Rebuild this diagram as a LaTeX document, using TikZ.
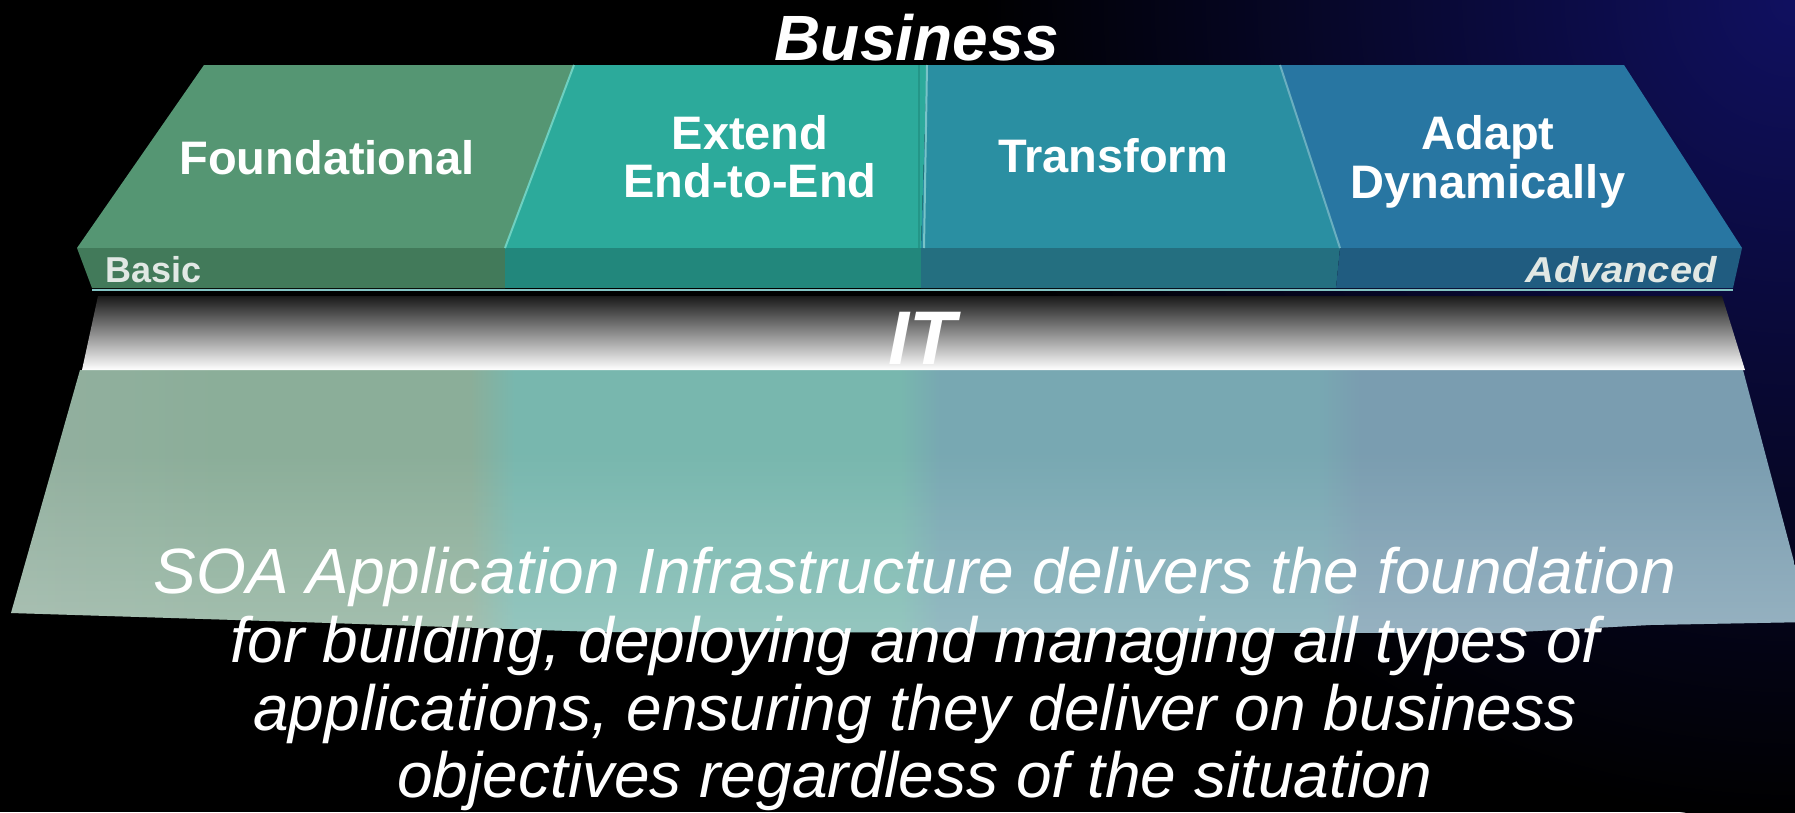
\documentclass[tikz,border=0pt]{standalone}
\usepackage{fontspec}
\usepackage{graphicx}
\setmainfont{Liberation Sans}
\usetikzlibrary{fadings}
\definecolor{glow}{RGB}{16,16,96}
\definecolor{s1top}{RGB}{85,150,115}
\definecolor{s1front}{RGB}{66,122,90}
\definecolor{s2top}{RGB}{44,170,155}
\definecolor{s2front}{RGB}{34,135,124}
\definecolor{s3top}{RGB}{42,143,162}
\definecolor{s3front}{RGB}{36,111,128}
\definecolor{s4top}{RGB}{40,118,162}
\definecolor{s4front}{RGB}{32,92,128}
\definecolor{r0}{RGB}{148,176,160}
\definecolor{r1}{RGB}{139,174,153}
\definecolor{r2}{RGB}{120,183,174}
\definecolor{r3}{RGB}{120,168,178}
\definecolor{r4}{RGB}{122,157,176}
\definecolor{hl12}{RGB}{110,208,192}
\definecolor{dk23}{RGB}{36,150,136}
\definecolor{hl23}{RGB}{120,195,200}
\definecolor{hl34}{RGB}{106,175,192}
\definecolor{seam}{RGB}{130,195,195}
\definecolor{smalltxt}{RGB}{225,232,228}
\begin{document}
\begin{tikzpicture}[x=1pt,y=-1pt,
  lab/.style={inner sep=0pt,text=white,font=\bfseries\fontsize{47}{50}\selectfont},
  head/.style={inner sep=0pt,text=white,font=\bfseries\itshape\fontsize{64}{68}\selectfont},
  ittxt/.style={inner sep=0pt,text=white,font=\bfseries\itshape\fontsize{76}{80}\selectfont},
  small/.style={inner sep=0pt,text=smalltxt,font=\bfseries\fontsize{36}{40}\selectfont},
  body/.style={inner sep=0pt,text=white,font=\itshape\fontsize{64}{68}\selectfont}]
\useasboundingbox (0,0) rectangle (1795,812);
\begin{scope}
\clip (0,0) rectangle (1795,812);
% background
\fill[black] (0,0) rectangle (1795,812);
\shade[inner color=glow, outer color=black] (1795,0) circle[radius=820pt];
% reflection
\begin{scope}
\clip (80,370) -- (1743,370) -- (1810,622) -- (1650,625) -- (1500,633)
      -- (600,632) -- (300,622) -- (11,613) -- cycle;
\shade[left color=r0,right color=r1] (0,360) rectangle (220,640);
\fill[r1] (220,360) rectangle (470,640);
\shade[left color=r1,right color=r2] (470,360) rectangle (515,640);
\fill[r2] (515,360) rectangle (900,640);
\shade[left color=r2,right color=r3] (900,360) rectangle (940,640);
\fill[r3] (940,360) rectangle (1318,640);
\shade[left color=r3,right color=r4] (1318,360) rectangle (1360,640);
\fill[r4] (1360,360) rectangle (1810,640);
\fill[white,opacity=0.22,path fading=north] (0,450) rectangle (1810,640);
\end{scope}
% top faces
\fill[s1top] (204,65) -- (574,65) -- (505,248) -- (77,248) -- cycle;
\fill[s2top] (574,65) -- (927,65) -- (921,248) -- (505,248) -- cycle;
\fill[s3top] (927,65) -- (1280,65) -- (1340,248) -- (921,248) -- cycle;
\fill[s4top] (1280,65) -- (1624,65) -- (1742,248) -- (1340,248) -- cycle;
% front faces
\fill[s1front] (77,248) -- (505,248) -- (505,288) -- (92,288) -- cycle;
\fill[s2front] (505,248) -- (921,248) -- (921,288) -- (505,288) -- cycle;
\fill[s3front] (921,248) -- (1340,248) -- (1336,288) -- (921,288) -- cycle;
\fill[s4front] (1340,248) -- (1742,248) -- (1733,288) -- (1336,288) -- cycle;
% highlights on dividers
\draw[hl12,line width=2pt] (574,65) -- (505,248);
\draw[dk23,line width=2pt] (919,65) -- (919,248);
\draw[hl23,line width=2pt] (927,65) -- (924,248);
\draw[hl34,line width=2pt] (1280,65) -- (1340,248);
\draw[seam,line width=2pt] (92,290) -- (1733,290);
% IT band
\shade[top color=black!90!white,bottom color=white] (98,296) -- (1722,296) -- (1745,370) -- (82,370) -- cycle;
\end{scope}
% texts
\node[head,anchor=base] (business) at (917,60) {Business};
\node[lab,anchor=base] (found) at (327,174) {Foundational};
\node[lab,anchor=base] (ext1) at (750,149) {Extend};
\node[lab,anchor=base] (ext2) at (750,197) {End-to-End};
\node[lab,anchor=base] (trans) at (1113,172) {Transform};
\node[lab,anchor=base] (adapt1) at (1488,149) {Adapt};
\node[lab,anchor=base] (adapt2) at (1488,198) {Dynamically};
\node[small,anchor=base west] (basic) at (105,282) {Basic};
\node[small,anchor=base east,font=\bfseries\itshape\fontsize{36}{40}\selectfont] (adv) at (1717,282) {\scalebox{1.11}[1]{Advanced}};
\node[ittxt,anchor=base] (it) at (922,364) {IT};
\node[body,anchor=base] (l1) at (915,593) {SOA Application Infrastructure delivers the foundation};
\node[body,anchor=base] (l2) at (915,662) {for building, deploying and managing all types of};
\node[body,anchor=base] (l3) at (915,730) {applications, ensuring they deliver on business};
\node[body,anchor=base] (l4) at (915,797) {objectives regardless of the situation};
\end{tikzpicture}
\end{document}
